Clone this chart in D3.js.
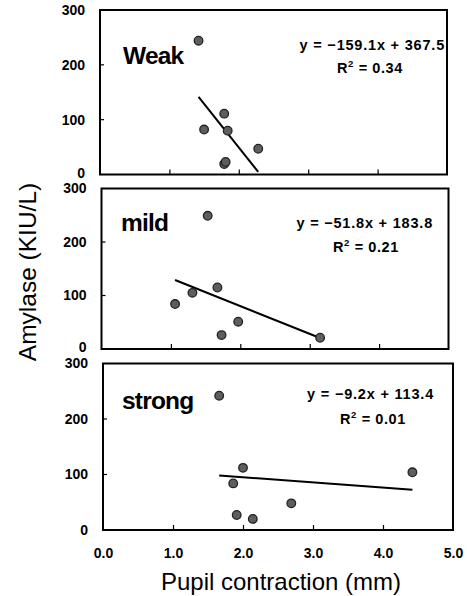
<!DOCTYPE html>
<html>
<head>
<meta charset="utf-8">
<script src="https://cdn.jsdelivr.net/npm/d3@7"></script>
<style>
  html, body { margin: 0; padding: 0; background: #fff; }
  svg { display: block; font-family: Arial, "Liberation Sans", sans-serif; }
</style>
</head>
<body>
<svg id="chart" width="467" height="596"></svg>
<script>
// Stimulus groups, one panel each
const groups = ["Weak", "mild", "strong"];

// Pupil contraction (mm) and amylase (KIU/L) per subject
const pupilWeak   = [1.42, 1.50, 1.79, 1.84, 1.79, 1.81, 2.28];
const amylaseWeak = [244, 82, 111, 80, 19, 23, 47];

const pupilMild   = [1.06, 1.31, 1.53, 1.67, 1.73, 1.97, 3.15];
const amylaseMild = [84, 105, 249, 115, 26, 51, 21];

const pupilStrong   = [1.66, 1.86, 1.91, 2.00, 2.14, 2.69, 4.42];
const amylaseStrong = [242, 84, 27, 112, 20, 48, 104];

// Linear fit per group
const slopes     = [-159.1, -51.8, -9.2];
const intercepts = [367.5, 183.8, 113.4];
const rSquared   = ["0.34", "0.21", "0.01"];

// Axis ticks
const xTicks = [0, 1, 2, 3, 4, 5];
const yTicks = [0, 100, 200, 300];

const pupil   = [pupilWeak, pupilMild, pupilStrong];
const amylase = [amylaseWeak, amylaseMild, amylaseStrong];

// Panel frames (pixels)
const frames = [
  { left: 100,   right: 447,   top: 10,    bottom: 174.5 },
  { left: 101.5, right: 448.5, top: 188.5, bottom: 349 },
  { left: 103,   right: 453,   top: 363.5, bottom: 530 }
];
// Text placement inside each panel
const textPos = [
  { label: [123, 64],  eqRight: 445, eqY: 50,  r2X: 370, r2Y: 73 },
  { label: [121, 230.5], eqRight: 433, eqY: 228, r2X: 366, r2Y: 252 },
  { label: [122, 409], eqRight: 434, eqY: 399, r2X: 373, r2Y: 424 }
];

const svg = d3.select("#chart");
const font = 'Arial, "Liberation Sans", sans-serif';

groups.forEach((name, i) => {
  const f = frames[i];
  const x = d3.scaleLinear().domain([0, 5]).range([f.left, f.right]);
  const y = d3.scaleLinear().domain([0, 300]).range([f.bottom, f.top]);
  const g = svg.append("g");

  // inward ticks on the x axis
  g.append("g")
    .attr("transform", `translate(0,${f.bottom})`)
    .call(d3.axisBottom(x).tickValues(xTicks.slice(1, -1)).tickSizeInner(-5).tickSizeOuter(0).tickFormat(""))
    .call(a => a.select(".domain").remove())
    .call(a => a.selectAll("line").attr("stroke", "#000").attr("stroke-width", 1.2));

  // y axis: labels outside, short ticks inside
  g.append("g")
    .attr("transform", `translate(${f.left},0)`)
    .call(d3.axisLeft(y).tickValues(yTicks).tickSizeInner(0).tickSizeOuter(0).tickPadding(15))
    .call(a => a.select(".domain").remove())
    .call(a => a.selectAll("text")
      .attr("font-family", font).attr("font-size", 14).attr("font-weight", "bold").attr("fill", "#000")
      .attr("dy", d => d === 0 && i < groups.length - 1 ? "0.2em" : "0.32em"));
  g.append("g")
    .selectAll("line").data(yTicks.slice(1, -1)).join("line")
    .attr("x1", f.left).attr("x2", f.left + 4)
    .attr("y1", d => y(d)).attr("y2", d => y(d))
    .attr("stroke", "#000").attr("stroke-width", 1.2);

  // panel frame
  g.append("rect")
    .attr("x", f.left).attr("y", f.top)
    .attr("width", f.right - f.left).attr("height", f.bottom - f.top)
    .attr("fill", "none").attr("stroke", "#000").attr("stroke-width", 2);

  // regression line over the observed x range
  const xs = pupil[i];
  const [x0, x1] = d3.extent(xs);
  const fit = v => slopes[i] * v + intercepts[i];
  g.append("line")
    .attr("x1", x(x0)).attr("y1", y(fit(x0)))
    .attr("x2", x(x1)).attr("y2", y(fit(x1)))
    .attr("stroke", "#000").attr("stroke-width", 2);

  // subjects
  g.selectAll("circle").data(xs.map((v, k) => [v, amylase[i][k]])).join("circle")
    .attr("cx", d => x(d[0])).attr("cy", d => y(d[1])).attr("r", 4.3)
    .attr("fill", "#5e5e5e").attr("stroke", "#222").attr("stroke-width", 1.3);

  // group name
  const t = textPos[i];
  g.append("text")
    .attr("x", t.label[0]).attr("y", t.label[1])
    .attr("font-family", font).attr("font-size", 24.5).attr("font-weight", "bold")
    .attr("letter-spacing", -0.8)
    .text(name);

  // fit equation and R²
  g.append("text")
    .attr("x", t.eqRight).attr("y", t.eqY).attr("text-anchor", "end")
    .attr("font-family", font).attr("font-size", 14.5).attr("font-weight", "bold")
    .attr("letter-spacing", 0.8)
    .text(`y = ${slopes[i] < 0 ? "\u2212" : ""}${Math.abs(slopes[i])}x + ${intercepts[i]}`);
  const r2 = g.append("text")
    .attr("x", t.r2X).attr("y", t.r2Y).attr("text-anchor", "middle")
    .attr("font-family", font).attr("font-size", 14.5).attr("font-weight", "bold")
    .attr("letter-spacing", 0.6);
  r2.append("tspan").text("R");
  r2.append("tspan").attr("dy", -6).attr("font-size", 9.5).text("2");
  r2.append("tspan").attr("dy", 6).text(` = ${rSquared[i]}`);

  // x tick labels under the bottom panel only
  if (i === groups.length - 1) {
    g.append("g")
      .attr("transform", `translate(0,${f.bottom})`)
      .call(d3.axisBottom(x).tickValues(xTicks).tickSize(0).tickPadding(18).tickFormat(d3.format(".1f")))
      .call(a => a.select(".domain").remove())
      .call(a => a.selectAll("text")
        .attr("font-family", font).attr("font-size", 14).attr("font-weight", "bold").attr("fill", "#000"));
  }
});

// axis titles
svg.append("text")
  .attr("x", 281).attr("y", 590).attr("text-anchor", "middle")
  .attr("font-family", font).attr("font-size", 24)
  .text("Pupil contraction (mm)");
svg.append("text")
  .attr("transform", "translate(36,272) rotate(-90)")
  .attr("text-anchor", "middle")
  .attr("font-family", font).attr("font-size", 24.5)
  .text("Amylase (KIU/L)");
</script>
</body>
</html>
